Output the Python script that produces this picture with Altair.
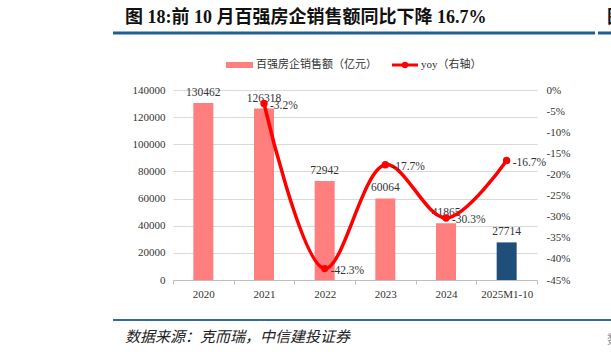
import altair as alt
import pandas as pd

# ---- data ----
years = ["2020", "2021", "2022", "2023", "2024", "2025M1-10"]
sales = [130462, 126318, 72942, 60064, 41865, 27714]
bar_group = ["hist", "hist", "hist", "hist", "hist", "ytd"]
yoy_years = ["2021", "2022", "2023", "2024", "2025M1-10"]
yoy = [-3.2, -42.3, -17.7, -30.3, -16.7]
left_ticks = [0, 20000, 40000, 60000, 80000, 100000, 120000, 140000]
right_ticks = [0, -5, -10, -15, -20, -25, -30, -35, -40, -45]

title_text = "图 18:前 10 月百强房企销售额同比下降 16.7%"
legend_bar = "百强房企销售额（亿元）"
legend_line = "yoy（右轴）"
source_text = "数据来源：克而瑞，中信建投证券"

bars_df = pd.DataFrame({"year": years, "sales": sales, "group": bar_group})
yoy_df = pd.DataFrame({"year": yoy_years, "yoy": yoy})
yoy_df["label"] = [f"{v:.1f}%" for v in yoy]
one = pd.DataFrame({"a": [0]})

SERIF = "Liberation Serif, Noto Sans CJK SC"
CJK = "Noto Sans CJK SC"
TXT = "#333333"
PINK = "#FF7F7F"
NAVY = "#1F4E79"
RED = "#FF0000"

x_axis = alt.Axis(title=None, labelAngle=0, tickBand="extent", tickSize=4,
                  tickColor="#BFBFBF", domainColor="#BFBFBF", labelPadding=4,
                  labelFont=SERIF, labelFontSize=11, labelColor=TXT, grid=False)
x_enc = alt.X("year:N", sort=years,
              scale=alt.Scale(domain=years, paddingInner=0, paddingOuter=0),
              axis=x_axis)
x_plain = alt.X("year:N", sort=years, scale=alt.Scale(domain=years, paddingInner=0, paddingOuter=0))

y_left = alt.Y("sales:Q", scale=alt.Scale(domain=[0, 140000], nice=False),
               axis=alt.Axis(title=None, values=left_ticks, format="d", grid=True,
                             gridColor="#D9D9D9", domain=False, ticks=False,
                             labelPadding=8, labelFont=SERIF, labelFontSize=11,
                             labelColor=TXT))
y_right = alt.Y("yoy:Q", scale=alt.Scale(domain=[-45, 0], nice=False),
                axis=alt.Axis(title=None, orient="right", values=right_ticks,
                              labelExpr="datum.value + '%'", grid=False, domain=False,
                              ticks=False, labelPadding=9, labelFont=SERIF,
                              labelFontSize=11, labelColor=TXT))

bars = alt.Chart(bars_df).mark_bar(size=20).encode(
    x=x_enc, y=y_left,
    color=alt.Color("group:N", scale=alt.Scale(domain=["hist", "ytd"], range=[PINK, NAVY]), legend=None),
)
bar_labels = alt.Chart(bars_df).mark_text(dy=-10, font=SERIF, fontSize=11.5, color=TXT).encode(
    x=x_plain, y=y_left, text=alt.Text("sales:Q", format="d"))
bar_layer = alt.layer(bars, bar_labels)

line = alt.Chart(yoy_df).mark_line(color=RED, strokeWidth=3.5, interpolate="catmull-rom").encode(
    x=x_plain, y=y_right)
pts = alt.Chart(yoy_df).mark_point(filled=True, size=55, color=RED, opacity=1).encode(
    x=x_plain, y=y_right)
yoy_labels = alt.Chart(yoy_df).mark_text(align="left", dx=6, dy=2, font=SERIF, fontSize=11.5, color=TXT).encode(
    x=x_plain, y=y_right, text="label:N")
line_layer = alt.layer(line, pts, yoy_labels)

# ---- decorations (title, rules, legend, source) ----
title = alt.Chart(one).mark_text(align="left", baseline="middle", font=SERIF, fontSize=18,
                                 fontWeight="bold", color="#111111").encode(
    x=alt.value(-48), y=alt.value(-72), text=alt.value(title_text))
title_frag = alt.Chart(one).mark_text(align="left", baseline="middle", font=CJK, fontSize=18,
                                      fontWeight="bold", color="#111111").encode(
    x=alt.value(434), y=alt.value(-72), text=alt.value("图"))
top_rule = alt.Chart(one).mark_rule(color="#1F5F91", strokeWidth=3).encode(
    x=alt.value(-60), x2=alt.value(422), y=alt.value(-57))
top_rule2 = alt.Chart(one).mark_rule(color="#1F5F91", strokeWidth=3).encode(
    x=alt.value(425), x2=alt.value(445), y=alt.value(-57))
bot_rule = alt.Chart(one).mark_rule(color="#2E6E9E", strokeWidth=2).encode(
    x=alt.value(-60), x2=alt.value(445), y=alt.value(230))
source = alt.Chart(one).mark_text(align="left", baseline="middle", font=CJK, fontSize=15,
                                  fontStyle="italic", color="#222222").encode(
    x=alt.value(-48), y=alt.value(247), text=alt.value(source_text))
source_frag = alt.Chart(one).mark_text(align="left", baseline="middle", font=CJK, fontSize=12,
                                       color="#999999").encode(
    x=alt.value(434), y=alt.value(250), text=alt.value("数"))

leg_rect = alt.Chart(one).mark_rect(color=PINK).encode(
    x=alt.value(53), x2=alt.value(80), y=alt.value(-28), y2=alt.value(-22))
leg_text1 = alt.Chart(one).mark_text(align="left", baseline="middle", font=CJK, fontSize=11,
                                     color=TXT).encode(
    x=alt.value(83), y=alt.value(-25), text=alt.value(legend_bar))
leg_line = alt.Chart(one).mark_rule(color=RED, strokeWidth=3).encode(
    x=alt.value(219), x2=alt.value(245), y=alt.value(-25))
leg_pt = alt.Chart(one).mark_point(filled=True, size=40, color=RED, opacity=1).encode(
    x=alt.value(232), y=alt.value(-25))
leg_text2 = alt.Chart(one).mark_text(align="left", baseline="middle", font=SERIF, fontSize=11,
                                     color=TXT).encode(
    x=alt.value(248), y=alt.value(-25), text=alt.value(legend_line))

chart = alt.layer(
    bar_layer, line_layer,
    title, title_frag, top_rule, top_rule2, bot_rule, source, source_frag,
    leg_rect, leg_text1, leg_line, leg_pt, leg_text2,
).resolve_scale(y="independent").properties(
    width=364, height=190,
    padding={"left": 173, "top": 90, "right": 74, "bottom": 77},
    autosize=alt.AutoSizeParams(type="none"),
    background="white",
).configure_view(stroke=None)

chart.save("out.html", embed_options={"renderer": "svg", "actions": False})
